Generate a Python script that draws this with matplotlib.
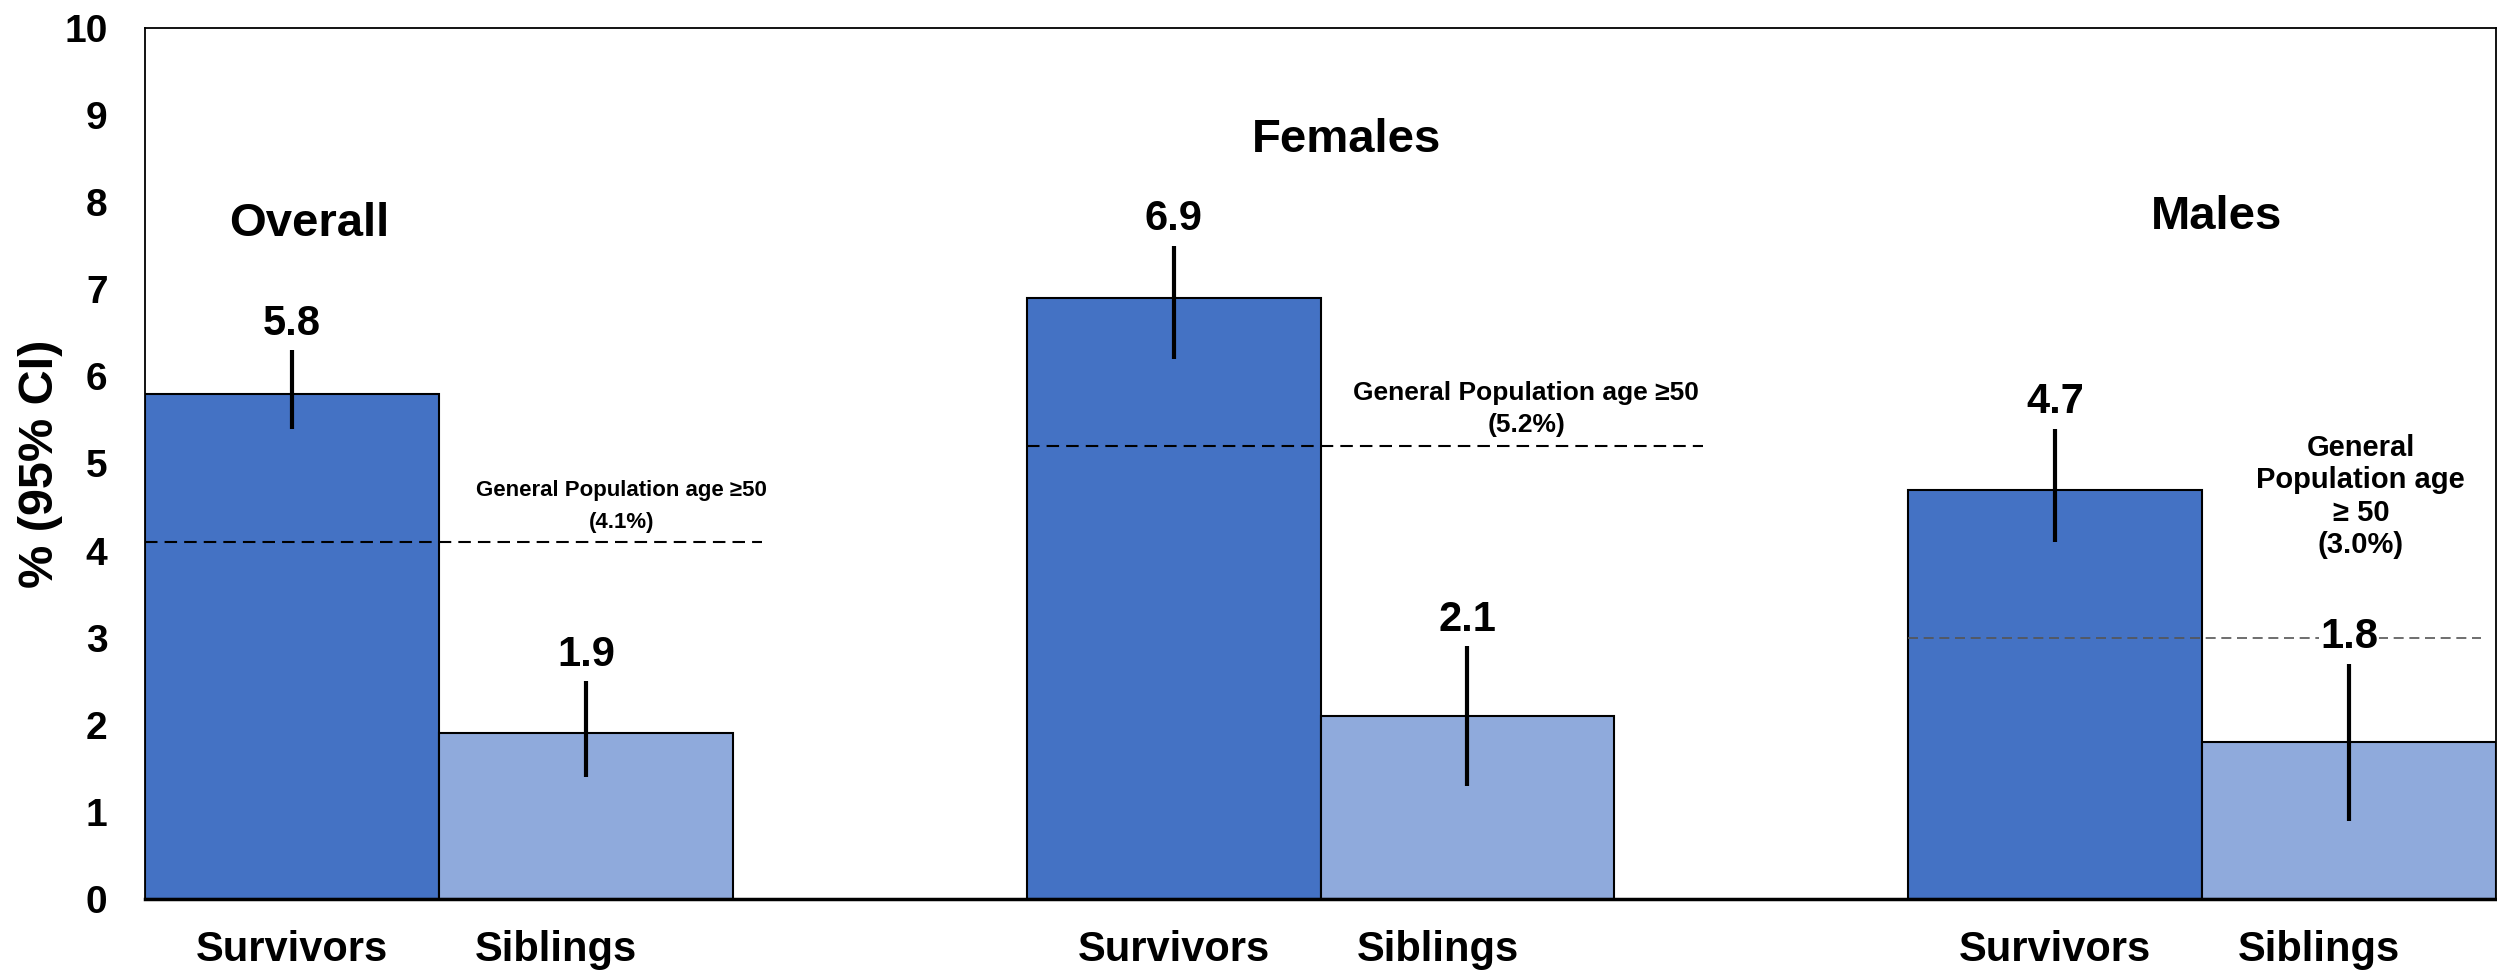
import numpy as np
import matplotlib
matplotlib.use("Agg")
import matplotlib.pyplot as plt
from matplotlib.transforms import ScaledTranslation

plt.rcParams['font.family'] = ['Liberation Sans', 'DejaVu Sans']
plt.rcParams['font.weight'] = 'bold'
plt.rcParams['axes.labelweight'] = 'bold'

# Prevalence by group, % with 95% CI
groups = ["Overall", "Females", "Males"]
survivors = [5.8, 6.9, 4.7]
survivors_lo = [5.4, 6.2, 4.1]
survivors_hi = [6.3, 7.5, 5.4]
siblings = [1.9, 2.1, 1.8]
siblings_lo = [1.4, 1.3, 0.9]
siblings_hi = [2.5, 2.9, 2.7]
gen_pop = [4.1, 5.2, 3.0]
gen_pop_text = ["General Population age \u226550\n(4.1%)",
                "General Population age \u226550\n(5.2%)",
                "General\nPopulation age\n\u2265 50\n(3.0%)"]
bar_names = ["Survivors", "Siblings"]

col_surv = '#4472C4'
col_sib = '#8FAADC'

fig = plt.figure(figsize=(24.97, 9.73), dpi=100)
ax = fig.add_axes([0.0581, 0.0761, 0.9415, 0.8951])

start = np.arange(len(groups)) * 3.0
x_surv = start + 0.5
x_sib = start + 1.5

surv = np.array(survivors)
sib = np.array(siblings)

ax.bar(x_surv, surv, width=1.0, color=col_surv, edgecolor='black', linewidth=1.5, zorder=2)
ax.bar(x_sib, sib, width=1.0, color=col_sib, edgecolor='black', linewidth=1.5, zorder=2)

ax.errorbar(x_surv, surv, yerr=[surv - np.array(survivors_lo), np.array(survivors_hi) - surv],
            fmt='none', ecolor='black', elinewidth=3, capsize=0, zorder=4)
ax.errorbar(x_sib, sib, yerr=[sib - np.array(siblings_lo), np.array(siblings_hi) - sib],
            fmt='none', ecolor='black', elinewidth=3, capsize=0, zorder=4)

# value labels above the CI whiskers (white backing keeps the reference line off the digits)
for xs, vals, his in [(x_surv, survivors, survivors_hi), (x_sib, siblings, siblings_hi)]:
    for xv, v, h in zip(xs, vals, his):
        ax.text(xv, h + 0.18, f"{v:.1f}", ha='center', va='baseline', fontsize=30, zorder=5,
                bbox=dict(facecolor='white', edgecolor='none', pad=1))

# general population reference lines
line_len = [2.1, 2.3, 1.95]
line_col = ['black', 'black', '#555555']
line_w = [1.5, 1.5, 1.2]
text_x = [1.62, 4.70, 7.54]
text_off = [0.1, 0.1, 0.9]
text_size = [16, 19, 21]
text_spacing = [1.7, 1.45, 1.2]
for i in range(len(groups)):
    ax.plot([start[i], start[i] + line_len[i]], [gen_pop[i], gen_pop[i]],
            color=line_col[i], linewidth=line_w[i], dashes=(6, 3.4), zorder=3)
    ax.text(text_x[i], gen_pop[i] + text_off[i], gen_pop_text[i], ha='center', va='bottom',
            fontsize=text_size[i], linespacing=text_spacing[i], multialignment='center', zorder=5)

# group headings
title_pos = [(0.56, 7.75), (4.09, 8.72), (7.05, 7.83)]
for g, (tx, ty) in zip(groups, title_pos):
    ax.text(tx, ty, g, ha='center', va='center', fontsize=34, zorder=5)

ax.set_xlim(0, 8)
ax.set_ylim(0, 10)
ax.set_yticks(np.arange(0, 11, 1))
ax.tick_params(axis='y', length=0, pad=27, labelsize=28)

ticks = np.ravel(np.column_stack([x_surv, x_sib]))
ax.set_xticks(ticks)
ax.set_xticklabels(bar_names * len(groups), fontsize=30)
ax.tick_params(axis='x', length=0, pad=22)
shift = ScaledTranslation(-0.3, 0, fig.dpi_scale_trans)
for k, lab in enumerate(ax.get_xticklabels()):
    if k % 2 == 1:
        lab.set_transform(lab.get_transform() + shift)

ax.set_ylabel("% (95% CI)", fontsize=35, fontweight='bold')
ax.yaxis.set_label_coords(-0.035, 0.5)

for side in ['left', 'top', 'right']:
    ax.spines[side].set_linewidth(1.3)
ax.spines['bottom'].set_linewidth(2.5)

fig.savefig("out.png", dpi=100)
